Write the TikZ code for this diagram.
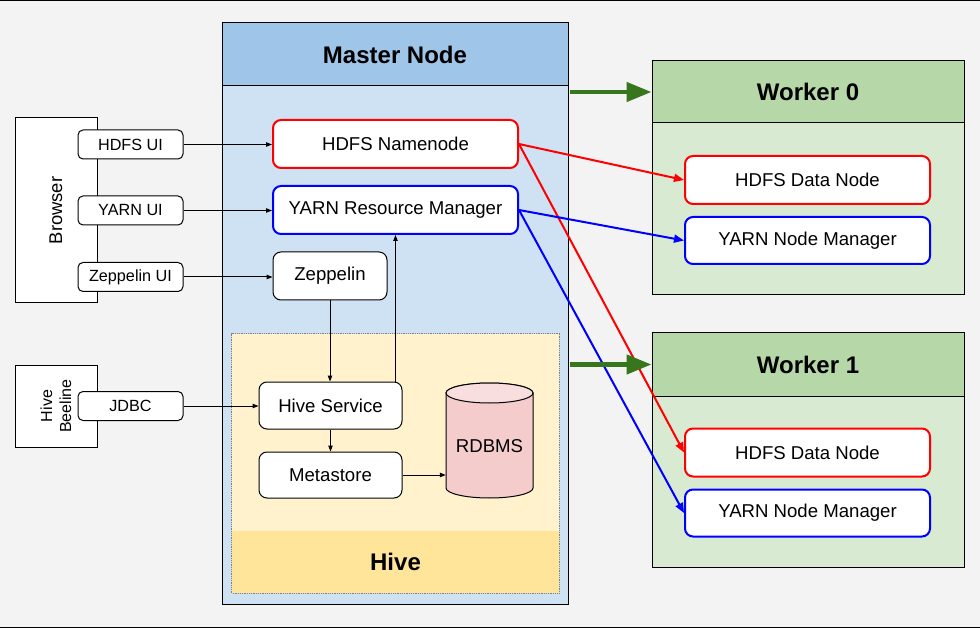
\documentclass[tikz,border=0pt]{standalone}
\usepackage{fontspec}
\setmainfont{Liberation Sans}
\usetikzlibrary{arrows.meta}
\definecolor{bg}{HTML}{F3F3F3}
\definecolor{masterhead}{HTML}{9FC5E8}
\definecolor{masterbody}{HTML}{CFE2F3}
\definecolor{hivelight}{HTML}{FFF2CC}
\definecolor{hivedark}{HTML}{FFE599}
\definecolor{workerhead}{HTML}{B6D7A8}
\definecolor{workerbody}{HTML}{D9EAD3}
\definecolor{garrowc}{HTML}{38761D}
\definecolor{rdb}{HTML}{F4CCCC}
\definecolor{rdbtop}{HTML}{F8DEDE}
\definecolor{pred}{HTML}{FF0000}
\definecolor{pblue}{HTML}{0000FF}
\tikzset{
  container/.style={draw=black, line width=1pt, inner sep=0pt},
  headbox/.style={draw=black, line width=1pt, inner sep=0pt, font=\fontsize{24}{28}\selectfont\bfseries},
  box/.style={draw=black, line width=1pt, rounded corners=8pt, fill=white, inner sep=0pt, font=\fontsize{18.6}{21}\selectfont},
  hdfsbox/.style={box, draw=pred, line width=2pt},
  yarnbox/.style={box, draw=pblue, line width=2pt},
  uibox/.style={draw=black, line width=1pt, rounded corners=5pt, fill=white, inner sep=0pt, minimum width=105pt, minimum height=29pt, font=\fontsize{16.2}{18}\selectfont},
  clientbox/.style={draw=black, line width=1pt, fill=white, inner sep=0pt, minimum width=82pt},
  arr/.style={draw=black, line width=1pt, -{Triangle[length=6pt,width=4.5pt]}},
  redarr/.style={draw=pred, line width=2pt, -{Triangle[length=10pt,width=8pt]}},
  bluearr/.style={draw=pblue, line width=2pt, -{Triangle[length=10pt,width=8pt]}},
  garr/.style={draw=garrowc, line width=4.5pt, -{Triangle[length=25pt,width=19pt]}},
}
\begin{document}
\begin{tikzpicture}[x=1pt,y=-1pt]
\fill[bg] (0,0) rectangle (980,628);
\useasboundingbox (0,0) rectangle (980,628);
\draw[line width=1pt] (0,0.5) -- (980,0.5);
\draw[line width=1pt] (0,627.5) -- (980,627.5);

% Master node
\node[container, fill=masterbody, minimum width=346pt, minimum height=581pt] (master) at (395,313.5) {};
\node[headbox, fill=masterhead, minimum width=346pt, minimum height=63pt, anchor=north] (masterh) at (master.north) {Master Node};

% Hive area
\node[inner sep=0pt, fill=hivelight, minimum width=327pt, minimum height=259pt] (hive) at (395.5,463.5) {};
\node[inner sep=0pt, fill=hivedark, minimum width=327pt, minimum height=62pt, anchor=south, font=\fontsize{24}{28}\selectfont\bfseries] (hiveh) at (hive.south) {Hive};
\draw[gray, line width=0.8pt, densely dotted] (hive.south west) rectangle (hive.north east);

% Workers
\node[container, fill=workerbody, minimum width=312pt, minimum height=234pt] (w0) at (808,178) {};
\node[headbox, fill=workerhead, minimum width=312pt, minimum height=62pt, anchor=north] (w0h) at (w0.north) {Worker 0};
\node[container, fill=workerbody, minimum width=312pt, minimum height=234pt] (w1) at (808,450) {};
\node[headbox, fill=workerhead, minimum width=312pt, minimum height=63pt, anchor=north] (w1h) at (w1.north) {Worker 1};

% Master components
\node[hdfsbox, minimum width=245pt, minimum height=48pt] (nn) at (395.5,144) {HDFS Namenode};
\node[yarnbox, minimum width=245pt, minimum height=48pt] (rm) at (395.5,210) {YARN Resource Manager};
\node[box, minimum width=114pt, minimum height=48pt] (zep) at (330,276) {Zeppelin};
\node[box, minimum width=143pt, minimum height=47pt] (hs) at (330.5,405.5) {Hive Service};
\node[box, minimum width=143pt, minimum height=46pt] (ms) at (330.5,475) {Metastore};

% RDBMS cylinder
\filldraw[fill=rdb, draw=black, line width=1pt] (446,393) -- (446,488)
  arc[start angle=180, end angle=360, x radius=43.5pt, y radius=10pt] -- (533,393)
  arc[start angle=0, end angle=180, x radius=43.5pt, y radius=10pt] -- cycle;
\filldraw[fill=rdbtop, draw=black, line width=1pt] (489.5,393) ellipse [x radius=43.5pt, y radius=10pt];
\node[inner sep=0pt, minimum width=87pt, minimum height=115pt] (rdbms) at (489.5,440.5) {};
\node[inner sep=0pt, font=\fontsize{18.6}{21}\selectfont] (rdbmslabel) at (489.5,446) {RDBMS};

% Workers components
\node[hdfsbox, minimum width=245pt, minimum height=48pt] (dn0) at (807.5,180) {HDFS Data Node};
\node[yarnbox, minimum width=245pt, minimum height=47pt] (nm0) at (807.5,240.5) {YARN Node Manager};
\node[hdfsbox, minimum width=245pt, minimum height=48pt] (dn1) at (807.5,452.5) {HDFS Data Node};
\node[yarnbox, minimum width=245pt, minimum height=47pt] (nm1) at (807.5,513) {YARN Node Manager};

% Clients
\node[clientbox, minimum height=185pt] (browser) at (56,210.5) {};
\node[rotate=90, inner sep=0pt, font=\fontsize{18.4}{21}\selectfont] (browserlabel) at (56,210.5) {Browser};
\node[clientbox, minimum height=82pt] (beeline) at (56,406) {};
\node[rotate=90, inner sep=0pt, align=center, font=\fontsize{16}{19}\selectfont] (beelinelabel) at (56,406) {Hive\\Beeline};
\node[uibox] (hdfsui) at (130.5,144.5) {HDFS UI};
\node[uibox] (yarnui) at (130.5,210.5) {YARN UI};
\node[uibox] (zepui) at (130.5,277) {Zeppelin UI};
\node[uibox] (jdbc) at (130.5,406) {JDBC};

% Connectors
\draw[arr] (hdfsui.east) -- (nn.west |- hdfsui.east);
\draw[arr] (yarnui.east) -- (rm.west |- yarnui.east);
\draw[arr] (zepui.east) -- (zep.west |- zepui.east);
\draw[arr] (jdbc.east) -- (hs.west |- jdbc.east);
\draw[arr] (zep.south) -- (zep.south |- hs.north);
\draw[arr] (rm.south |- hs.north) -- (rm.south);
\draw[arr] (hs.south -| ms.north) -- (ms.north);
\draw[arr] (ms.east) -- (rdbms.west |- ms.east);

\draw[redarr] (nn.east) -- (dn0.west);
\draw[redarr] (nn.east) -- (dn1.west);
\draw[bluearr] (rm.east) -- (nm0.west);
\draw[bluearr] (rm.east) -- (nm1.west);

\coordinate (g0) at ([xshift=1.5pt]master.east |- w0h.west);
\coordinate (g1) at ([xshift=1.5pt]master.east |- w1h.west);
\draw[garr] (g0) -- (w0h.west);
\draw[garr] (g1) -- (w1h.west);
\end{tikzpicture}
\end{document}
